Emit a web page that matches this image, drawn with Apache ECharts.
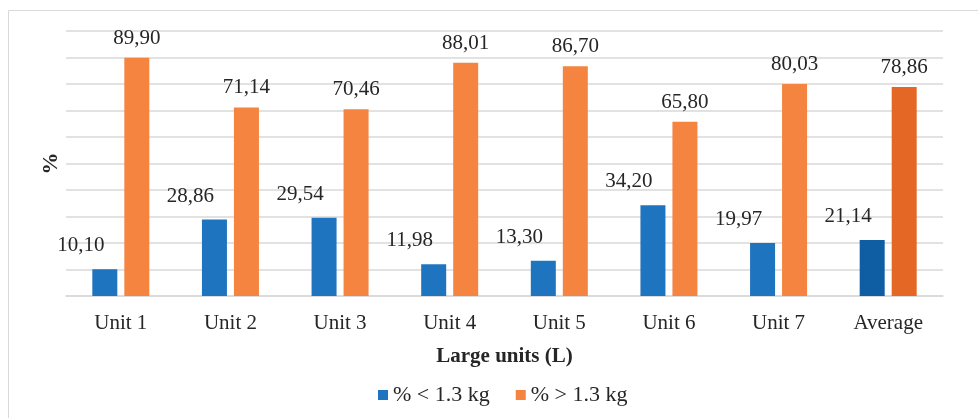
<!DOCTYPE html>
<html>
<head>
<meta charset="utf-8">
<script src="https://cdn.jsdelivr.net/npm/echarts@6/dist/echarts.min.js"></script>
<style>
  html, body { margin: 0; padding: 0; background: #fff; }
  #chart { width: 978px; height: 418px; }
</style>
</head>
<body>
<div id="chart"></div>
<script>
// Share of units below / above 1.3 kg for the large units (L)
const categories = ['Unit 1', 'Unit 2', 'Unit 3', 'Unit 4', 'Unit 5', 'Unit 6', 'Unit 7', 'Average'];
const below13 = [10.10, 28.86, 29.54, 11.98, 13.30, 34.20, 19.97, 21.14];
const above13 = [89.90, 71.14, 70.46, 88.01, 86.70, 65.80, 80.03, 78.86];
const seriesNames = ['% < 1.3 kg', '% > 1.3 kg'];

const FONT = '"Liberation Serif", "Times New Roman", serif';
const TEXT = '#262626';
const BLUE = '#1f74bf', BLUE_AVG = '#0f5ea3';
const ORANGE = '#f4843f', ORANGE_AVG = '#e46726';

// The "Average" column is drawn in a darker shade
function withAverageShade(values, base, dark) {
  return values.map((v, i) => categories[i] === 'Average'
    ? { value: v, itemStyle: { color: dark } }
    : { value: v, itemStyle: { color: base } });
}

const fmt = p => p.value.toFixed(2).replace('.', ',');

const chart = echarts.init(document.getElementById('chart'), null, { renderer: 'canvas' });
chart.setOption({
  animation: false,
  backgroundColor: '#fff',
  textStyle: { fontFamily: FONT, color: TEXT },
  graphic: [{
    type: 'rect',
    shape: { x: 8.5, y: 10.5, width: 1000, height: 500 },
    style: { fill: 'none', stroke: '#d9d9d9', lineWidth: 1 },
    silent: true
  }],
  grid: { left: 66, right: 35, top: 31, bottom: 122, containLabel: false },
  legend: {
    bottom: 7,
    left: 373,
    itemWidth: 10,
    itemHeight: 10,
    itemGap: 26,
    icon: 'rect',
    textStyle: { fontFamily: FONT, fontSize: 22, color: TEXT },
    data: [
      { name: seriesNames[0], itemStyle: { color: BLUE } },
      { name: seriesNames[1], itemStyle: { color: ORANGE } }
    ]
  },
  xAxis: {
    type: 'category',
    data: categories,
    name: 'Large units (L)',
    nameLocation: 'middle',
    nameGap: 50,
    nameTextStyle: { fontFamily: FONT, fontSize: 21, fontWeight: 'bold', color: TEXT },
    axisLine: { show: true, lineStyle: { color: '#d9d9d9', width: 1.5 } },
    axisTick: { show: false },
    axisLabel: { fontFamily: FONT, fontSize: 21, color: TEXT, margin: 17 }
  },
  yAxis: {
    type: 'value',
    min: 0,
    max: 100,
    interval: 10,
    name: '%',
    nameLocation: 'middle',
    nameGap: 4,
    nameRotate: 90,
    nameTextStyle: { fontFamily: FONT, fontSize: 22, fontWeight: 'bold', color: TEXT },
    axisLine: { show: false },
    axisTick: { show: false },
    axisLabel: { show: false },
    splitLine: { lineStyle: { color: '#d9d9d9', width: 1.5 } }
  },
  series: [
    {
      name: seriesNames[0],
      type: 'bar',
      barWidth: 25,
      barGap: '28%',
      data: withAverageShade(below13, BLUE, BLUE_AVG),
      label: {
        show: true,
        position: 'top',
        offset: [-24, -8],
        formatter: fmt,
        fontFamily: FONT,
        fontSize: 21,
        color: TEXT
      }
    },
    {
      name: seriesNames[1],
      type: 'bar',
      barWidth: 25,
      data: withAverageShade(above13, ORANGE, ORANGE_AVG),
      label: {
        show: true,
        position: 'top',
        distance: 9,
        formatter: fmt,
        fontFamily: FONT,
        fontSize: 21,
        color: TEXT
      }
    }
  ]
});
</script>
</body>
</html>
